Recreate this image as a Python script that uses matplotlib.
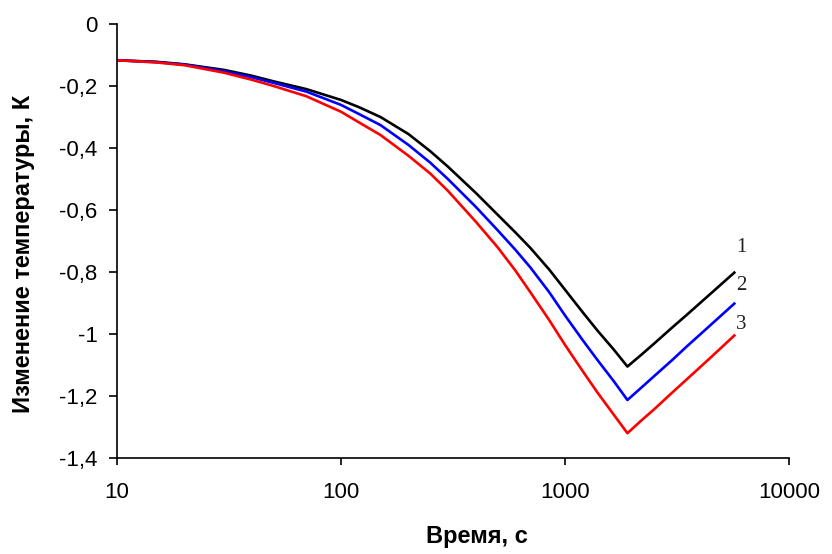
import numpy as np
import matplotlib
matplotlib.use('Agg')
import matplotlib.pyplot as plt

plt.rcParams['font.family'] = ['Liberation Sans', 'DejaVu Sans']

# time, s (log axis)
t = [10, 15, 20, 30, 40, 50, 70, 100, 120, 150, 200, 250, 300, 400, 500, 600,
     700, 850, 1000, 1200, 1400, 1650, 1900, 2200, 2500, 3000, 3500, 4500, 5700]

# temperature change, K
curve1 = [-0.117, -0.122, -0.13, -0.148, -0.167, -0.185, -0.21, -0.245, -0.268,
          -0.30, -0.355, -0.41, -0.46, -0.545, -0.615, -0.672, -0.722, -0.792,
          -0.857, -0.93, -0.99, -1.05, -1.105, -1.066, -1.031, -0.98, -0.938,
          -0.868, -0.802]
curve2 = [-0.117, -0.123, -0.131, -0.152, -0.172, -0.19, -0.218, -0.261, -0.29,
          -0.326, -0.39, -0.447, -0.50, -0.59, -0.665, -0.728, -0.785, -0.865,
          -0.94, -1.02, -1.085, -1.152, -1.213, -1.172, -1.136, -1.085, -1.04,
          -0.969, -0.902]
curve3 = [-0.117, -0.124, -0.133, -0.157, -0.18, -0.2, -0.233, -0.283, -0.317,
          -0.358, -0.425, -0.482, -0.538, -0.638, -0.72, -0.795, -0.865, -0.955,
          -1.035, -1.12, -1.19, -1.26, -1.32, -1.278, -1.243, -1.19, -1.146,
          -1.074, -1.005]

curve_names = ['1', '2', '3']
colors = ['black', '#0000ff', '#ff0000']

yticks = [0, -0.2, -0.4, -0.6, -0.8, -1.0, -1.2, -1.4]
ytick_labels = ['0', '-0,2', '-0,4', '-0,6', '-0,8', '-1', '-1,2', '-1,4']
xticks = [10, 100, 1000, 10000]
xtick_labels = ['10', '100', '1000', '10000']

fig = plt.figure(figsize=(8.32, 5.54), dpi=100)
ax = fig.add_axes([0.1406, 0.1733, 0.8077, 0.7834])

label_dy = [0.08, 0.057, 0.035]
for y, c, name, dy in zip([curve1, curve2, curve3], colors, curve_names, label_dy):
    ax.plot(t, y, color=c, lw=1.9)
    ax.text(t[-1] * 1.07, y[-1] + dy, name, color='#222222',
            family='Liberation Serif', fontsize=15, ha='center', va='center')

ax.set_xscale('log')
ax.set_xlim(10, 10000)
ax.set_ylim(-1.4, 0)
ax.set_xticks(xticks)
ax.set_xticklabels(xtick_labels)
ax.minorticks_off()
ax.set_yticks(yticks)
ax.set_yticklabels(ytick_labels)

for s in ['top', 'right']:
    ax.spines[s].set_visible(False)
for s in ['left', 'bottom']:
    ax.spines[s].set_linewidth(1.2)
    ax.spines[s].set_clip_on(False)

ax.tick_params(axis='y', direction='out', length=6, width=1.2, pad=8, labelsize=16)
ax.tick_params(axis='x', direction='out', length=5, width=1.2, pad=12, labelsize=16)

ax.set_xlabel('Время, с', fontsize=17, fontweight='bold')
ax.xaxis.set_label_coords((477 - 117) / 672, -0.155)
ax.set_ylabel('Изменение температуры, К', fontsize=17, fontweight='bold')
ax.yaxis.set_label_coords((35 - 117) / 672, 0.47)

fig.savefig('out.png', dpi=100)
